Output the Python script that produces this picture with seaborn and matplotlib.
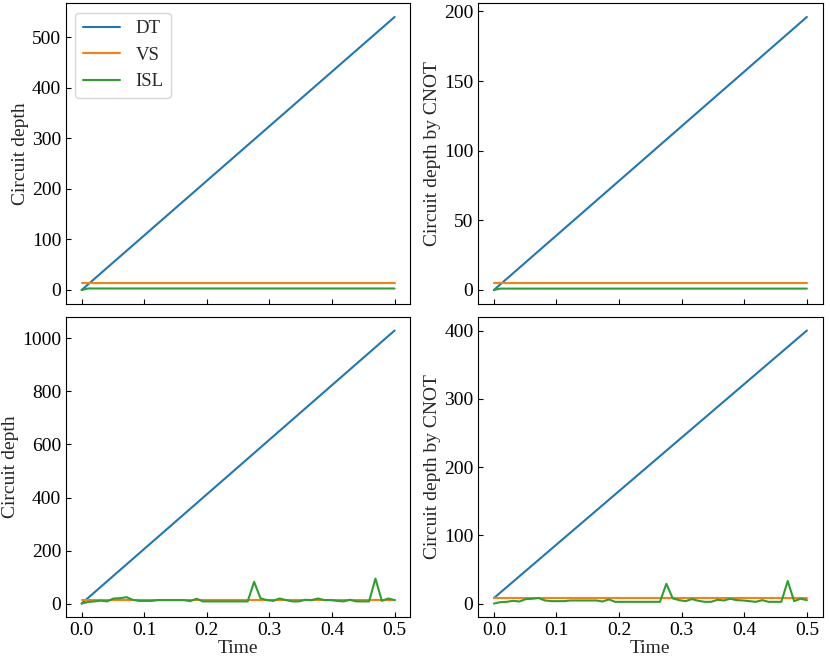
import numpy as np
import pandas as pd
import matplotlib
matplotlib.use("Agg")
import matplotlib.pyplot as plt
import seaborn as sns

# time grid (50 trotter steps from 0 to 0.5)
time = np.linspace(0, 0.5, 50)
t_ends = [0.0, 0.5]

# top row: depth / CNOT depth, ISL flat after first step
dt_depth_top = [0, 540]
vs_depth_top = [14, 14]
isl_depth_top = [0, 3, 3]
dt_cnot_top = [0, 196]
vs_cnot_top = [5, 5]
isl_cnot_top = [0, 1, 1]

# bottom row
dt_depth_bot = [0, 1030]
vs_depth_bot = [15, 15]
isl_depth_bot = [0, 6, 8, 11, 8, 19, 20, 24, 14, 10,
                 10, 10, 13, 13, 13, 13, 13, 9, 18, 8,
                 8, 8, 8, 8, 8, 8, 8, 82, 20, 13,
                 10, 19, 13, 8, 8, 14, 13, 19, 13, 13,
                 10, 8, 14, 8, 8, 8, 94, 10, 19, 13]
dt_cnot_bot = [8, 400]
vs_cnot_bot = [8, 8]
isl_cnot_bot = [0, 2, 2.5, 4, 3, 6.5, 7, 8, 4.5, 3.5,
                3.5, 3.5, 4.5, 4.5, 4.5, 4.5, 4.5, 3, 6, 2.5,
                2.5, 2.5, 2.5, 2.5, 2.5, 2.5, 2.5, 29, 7.5, 5,
                3.5, 6.5, 4, 2.5, 2.5, 5.5, 4.5, 7, 5, 4.5,
                3.5, 2.5, 5, 2.5, 2.5, 2.5, 33, 3.5, 7, 5]

methods = ["DT", "VS", "ISL"]


def make_frame(dt, vs, isl, isl_t):
    parts = [
        pd.DataFrame({"Time": t_ends, "val": dt, "method": "DT"}),
        pd.DataFrame({"Time": t_ends, "val": vs, "method": "VS"}),
        pd.DataFrame({"Time": isl_t, "val": isl, "method": "ISL"}),
    ]
    return pd.concat(parts, ignore_index=True)


sns.set_style("ticks")
plt.rcParams["font.family"] = ["Liberation Serif", "DejaVu Serif"]
plt.rcParams["font.size"] = 14
plt.rcParams["xtick.direction"] = "in"
plt.rcParams["ytick.direction"] = "in"
plt.rcParams["axes.edgecolor"] = "black"
plt.rcParams["xtick.color"] = "black"
plt.rcParams["ytick.color"] = "black"

fig, axes = plt.subplots(2, 2, figsize=(8.3, 6.64), dpi=100, sharex=True)

top_t = [0.0, time[1], 0.5]
panels = [
    (axes[0, 0], make_frame(dt_depth_top, vs_depth_top, isl_depth_top, top_t), "Circuit depth"),
    (axes[0, 1], make_frame(dt_cnot_top, vs_cnot_top, isl_cnot_top, top_t), "Circuit depth by CNOT"),
    (axes[1, 0], make_frame(dt_depth_bot, vs_depth_bot, isl_depth_bot, time), "Circuit depth"),
    (axes[1, 1], make_frame(dt_cnot_bot, vs_cnot_bot, isl_cnot_bot, time), "Circuit depth by CNOT"),
]

for i, (ax, df, ylab) in enumerate(panels):
    sns.lineplot(data=df, x="Time", y="val", hue="method", hue_order=methods,
                 palette="tab10", estimator=None, sort=True, ax=ax,
                 legend=(i == 0))
    ax.set_ylabel(ylab, labelpad=2)
    ax.set_xlabel("Time" if i >= 2 else "", labelpad=1)
    for s in ax.spines.values():
        s.set_visible(True)
        s.set_color("black")

axes[0, 0].legend(loc="upper left", title=None, fontsize=13.5)
axes[1, 0].set_xticks([0.0, 0.1, 0.2, 0.3, 0.4, 0.5])

fig.subplots_adjust(left=0.0795, right=0.991, top=0.995, bottom=0.0705,
                    wspace=0.1975, hspace=0.044)
fig.savefig("out.png", dpi=100)
